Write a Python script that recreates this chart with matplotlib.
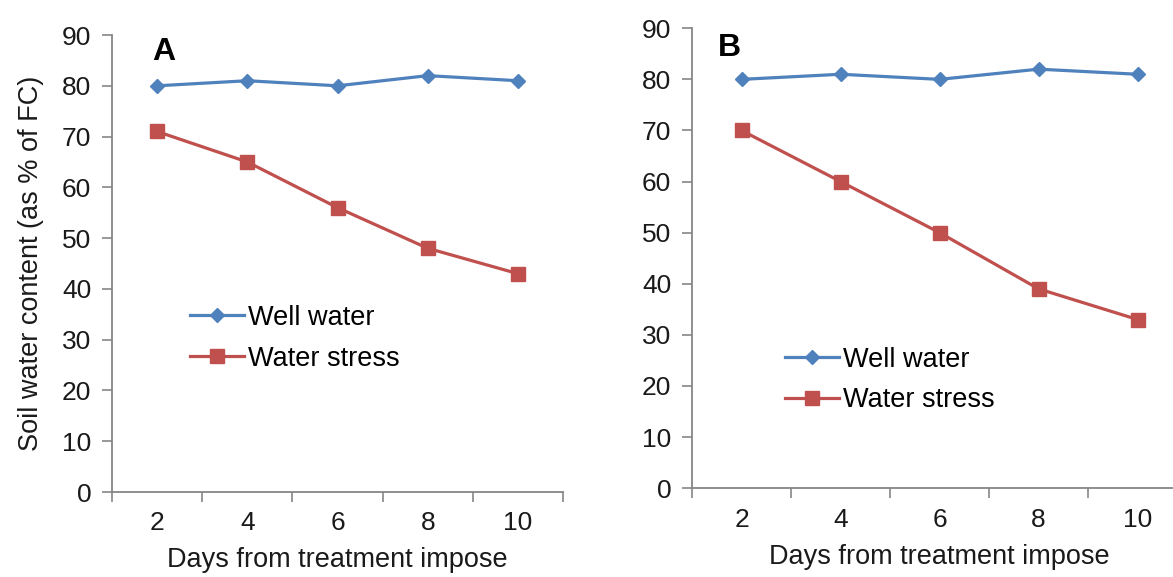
import matplotlib
matplotlib.use("Agg")
import matplotlib.pyplot as plt
from matplotlib.ticker import FixedLocator, NullFormatter

plt.rcParams['font.family'] = ['Liberation Sans', 'DejaVu Sans']

days = ["2", "4", "6", "8", "10"]
well_A = [80, 81, 80, 82, 81]
stress_A = [71, 65, 56, 48, 43]
well_B = [80, 81, 80, 82, 81]
stress_B = [70, 60, 50, 39, 33]
yticks = [0, 10, 20, 30, 40, 50, 60, 70, 80, 90]

blue = "#4F81BD"
red = "#C0504D"
gray = "#868686"
txt = "#1a1a1a"

fig = plt.figure(figsize=(11.73, 5.77), dpi=100)
axA = fig.add_axes([0.0955, 0.1473, 0.3845, 0.792])
axB = fig.add_axes([0.590, 0.154, 0.422, 0.797])

def style(ax, well, stress, letter, leg_anchor, letter_pos, xlpad):
    x = list(range(1, len(days) + 1))
    ax.plot(x, well, color=blue, lw=2.3, marker="D", ms=7.5, mec=blue, mfc=blue, label="Well water", clip_on=False)
    ax.plot(x, stress, color=red, lw=2.3, marker="s", ms=10, mec=red, mfc=red, label="Water stress", clip_on=False)
    ax.set_xlim(0.5, len(days) + 0.5)
    ax.set_ylim(0, 90)
    ax.set_yticks(yticks)
    ax.xaxis.set_major_locator(FixedLocator([i + 0.5 for i in range(0, len(days) + 1)]))
    ax.xaxis.set_major_formatter(NullFormatter())
    ax.xaxis.set_minor_locator(FixedLocator(x))
    ax.set_xticklabels(days, minor=True)
    ax.tick_params(axis="x", which="major", direction="out", length=7, width=1.2, color=gray)
    ax.tick_params(axis="x", which="minor", length=0, pad=14, labelsize=19, labelcolor=txt)
    ax.tick_params(axis="y", direction="out", length=7, width=1.2, color=gray, labelsize=19, labelcolor=txt, pad=8)
    for s in ["top", "right"]:
        ax.spines[s].set_visible(False)
    for s in ["left", "bottom"]:
        ax.spines[s].set_color(gray)
        ax.spines[s].set_linewidth(1.3)
    ax.set_xlabel("Days from treatment impose", fontsize=19.5, color=txt, labelpad=xlpad)
    ax.text(letter_pos[0], letter_pos[1], letter, transform=ax.transAxes, fontsize=23,
            fontweight="bold", ha="left", va="center")
    ax.legend(loc="upper left", bbox_to_anchor=leg_anchor, frameon=False, fontsize=19.5,
              handlelength=2.0, handletextpad=0.15, labelspacing=0.55, borderaxespad=0,
              borderpad=0)

style(axA, well_A, stress_A, "A", (0.173, 0.41), (0.089, 0.963), 8)
axA.set_ylabel("Soil water content (as % of FC)", fontsize=19.5, color=txt, labelpad=13)
style(axB, well_B, stress_B, "B", (0.188, 0.308), (0.053, 0.957), 9)

fig.savefig("out.png", dpi=100)
